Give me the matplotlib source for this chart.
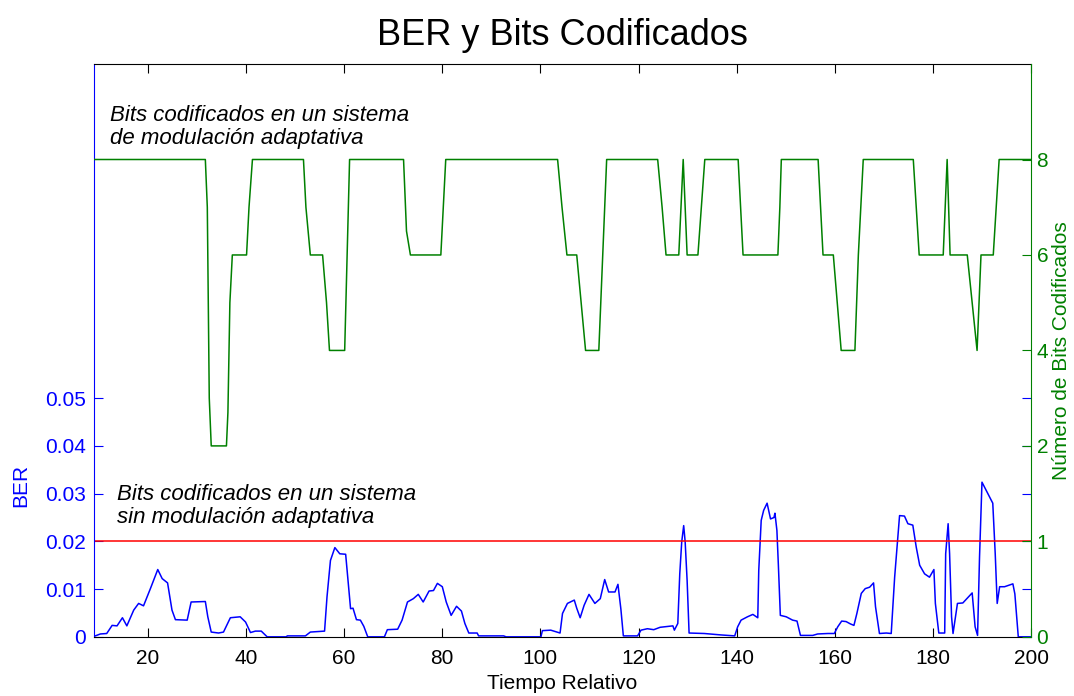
import numpy as np
import matplotlib
matplotlib.use("Agg")
import matplotlib.pyplot as plt
from matplotlib.ticker import FuncFormatter

plt.rcParams["font.family"] = ["Liberation Sans", "DejaVu Sans"]

# BER without adaptive modulation (time, BER)
ber_t = [9, 10.3, 11.6, 12.7, 13.7, 14.8, 15.7, 17.1, 18.1, 19.1, 20.5, 22.0, 22.9, 24.0, 24.9,
         25.6, 28.0, 28.8, 31.7, 32.2, 32.9, 34.4, 35.4, 36.8, 38.8, 39.9, 40.9, 41.9, 43.1, 44.3,
         48.2, 48.4, 52.1, 53.1, 56.0, 56.5, 57.2, 58.1, 59.1, 60.3, 60.9, 61.3, 61.8, 62.5, 63.3,
         64.0, 64.8,
         68.2, 68.8, 70.9, 71.8, 72.9, 74.1, 75.1, 76.1, 77.3, 78.2, 79.0, 80.0, 80.8, 81.8, 82.9,
         83.9, 84.6, 85.4, 87.1, 87.4, 92.5, 93.0,
         100.1, 100.4, 102.1, 104.0, 104.5, 105.5, 106.9, 107.4, 108.1, 108.9, 109.9, 111.1, 112.2,
         113.1, 113.9, 115.2, 115.8, 116.4, 116.9, 119.8, 120.5, 121.8, 123.1, 124.4,
         127.0, 127.3, 128.0, 128.4, 128.8, 129.2, 129.5, 129.9, 130.3, 133.4, 136.8, 139.6, 140.2,
         140.9, 142.2, 143.3, 144.3, 144.5, 145.0, 145.5, 146.2, 146.9, 147.6, 147.8, 148.2, 148.5,
         148.9, 150.1, 151.4, 152.3, 153.0,
         155.5, 156.5, 158.6, 159.9, 160.6, 161.4, 162.3, 163.2, 163.9, 164.5, 165.4, 166.2, 167.1,
         167.9, 168.3, 169.1, 170.5, 171.5,
         172.2, 173.2, 174.2, 174.9, 175.9, 176.6, 177.3, 178.3, 179.3, 180.2, 180.5, 181.2, 182.4,
         182.6, 183.1, 183.4, 183.8, 184.1, 185.0, 186.1, 188.0, 188.6, 189.1, 189.5, 190.0, 190.7,
         191.4, 192.2, 192.7, 193.1, 193.6, 194.6, 196.3, 196.7, 197.4, 200.0]
ber_val = [0.0001, 0.0006, 0.0007, 0.0024, 0.0023, 0.0040, 0.0023, 0.0056, 0.0070, 0.0065, 0.0101,
           0.0141, 0.0122, 0.0113, 0.0056, 0.0036, 0.0035, 0.0073, 0.0074, 0.0042, 0.0010, 0.0008,
           0.0010, 0.0040, 0.0042, 0.0031, 0.0009, 0.0012, 0.0012, 0.0,
           0.0, 0.0002, 0.0002, 0.0010, 0.0012, 0.0084, 0.0160, 0.0187, 0.0174, 0.0173, 0.0105,
           0.0059, 0.0060, 0.0036, 0.0035, 0.0022, 0.0,
           0.0, 0.0015, 0.0016, 0.0035, 0.0073, 0.0080, 0.0089, 0.0073, 0.0096, 0.0097, 0.0112,
           0.0105, 0.0073, 0.0045, 0.0064, 0.0054, 0.0028, 0.0008, 0.0008, 0.0002, 0.0002, 0.0,
           0.0, 0.0013, 0.0014, 0.0008, 0.0049, 0.0070, 0.0077, 0.0060, 0.0040, 0.0066, 0.0089,
           0.0070, 0.0080, 0.0120, 0.0094, 0.0094, 0.0110, 0.0058, 0.0002, 0.0002, 0.0014, 0.0017,
           0.0015, 0.0020,
           0.0023, 0.0014, 0.0028, 0.0132, 0.0199, 0.0233, 0.0199, 0.0118, 0.0008, 0.0007, 0.0004,
           0.0002, 0.0021, 0.0035, 0.0042, 0.0047, 0.0040, 0.0139, 0.0244, 0.0265, 0.0280, 0.0247,
           0.0250, 0.0259, 0.0223, 0.0150, 0.0045, 0.0042, 0.0035, 0.0033, 0.0003,
           0.0003, 0.0006, 0.0007, 0.0007, 0.0021, 0.0033, 0.0032, 0.0027, 0.0024, 0.0049, 0.0091,
           0.0101, 0.0104, 0.0113, 0.0063, 0.0007, 0.0008, 0.0007,
           0.0125, 0.0254, 0.0253, 0.0237, 0.0234, 0.0188, 0.0150, 0.0132, 0.0125, 0.0141, 0.0070,
           0.0008, 0.0008, 0.0174, 0.0237, 0.0174, 0.0042, 0.0007, 0.0070, 0.0071, 0.0092, 0.0021,
           0.0003, 0.0167, 0.0324, 0.0310, 0.0296, 0.0280, 0.0174, 0.0070, 0.0105, 0.0105, 0.0111,
           0.0090, 0.0, 0.0]

# bits per symbol with adaptive modulation (time, bits)
bits_t = [9, 31.7, 32.1, 32.5, 32.9, 36.0, 36.3, 36.7, 37.2, 40.1, 40.6, 41.3, 51.7, 52.2, 53.1,
          55.6, 56.4, 57.0, 60.1, 60.6, 61.1, 72.1, 72.7, 73.5, 79.7, 80.2, 80.7, 103.5, 104.4,
          105.4, 107.4, 108.3, 109.2, 111.9, 112.7, 113.5, 123.9, 124.8, 125.6, 128.2, 129.1, 129.9,
          132.1, 132.8, 133.5, 140.3, 141.3, 148.4, 148.8, 149.1, 156.6, 157.6, 159.7, 160.5, 161.3,
          164.1, 164.8, 165.8, 176.0, 177.2, 182.1, 182.9, 183.5, 187.0, 188.0, 189.0, 189.8, 190.7,
          192.3, 193.5, 200]
bits_val = [8, 8, 7, 3, 2, 2, 2.7, 5, 6, 6, 7, 8, 8, 7, 6,
            6, 5, 4, 4, 6, 8, 8, 6.5, 6, 6, 7, 8, 8, 7,
            6, 6, 5, 4, 4, 6, 8, 8, 7, 6, 6, 8, 6,
            6, 7, 8, 8, 6, 6, 7, 8, 8, 6, 6, 5, 4,
            4, 6, 8, 8, 6, 6, 8, 6, 6, 5, 4, 6, 6,
            6, 8, 8]

ber_limit = 0.02
ber_ticks = [0, 0.01, 0.02, 0.03, 0.04, 0.05]
bit_ticks = [0, 1, 2, 4, 6, 8]
time_ticks = [20, 40, 60, 80, 100, 120, 140, 160, 180, 200]

BLUE = "#0000ff"
GREEN = "#008000"
RED = "#ff0000"


# right axis: 0-2 linear, then 2 bits per step above 2
def bits_fwd(v):
    return np.interp(v, [0, 2, 10], [0, 2, 6])


def bits_inv(p):
    return np.interp(p, [0, 2, 6], [0, 2, 10])


fig = plt.figure(figsize=(10.74, 6.96), dpi=100)
ax = fig.add_axes([0.0875, 0.085, 0.8725, 0.823])
ax2 = ax.twinx()

ax.plot(ber_t, ber_val, color=BLUE, lw=1.1)
ax.axhline(ber_limit, color=RED, lw=1.1)
ax2.plot(bits_t, bits_val, color=GREEN, lw=1.1)

ax.set_xlim(9, 200)
ax.set_ylim(0, 0.12)
ax.set_xticks(time_ticks)
ax.set_yticks(ber_ticks)
ax.yaxis.set_major_formatter(FuncFormatter(lambda v, _: f"{v:g}"))

ax2.set_yscale("function", functions=(bits_fwd, bits_inv))
ax2.set_ylim(0, 10)
ax2.set_yticks(bit_ticks)
ax2.yaxis.set_major_formatter(FuncFormatter(lambda v, _: f"{v:g}"))
ax2.minorticks_off()

ax.tick_params(axis="x", direction="in", top=True, length=6.5, width=0.8,
               labelsize=15, pad=9)
ax.tick_params(axis="y", direction="in", right=True, length=6.5, width=0.8,
               colors=BLUE, labelsize=15, pad=6)
ax2.tick_params(axis="y", direction="in", length=6.5, width=0.8,
                colors=GREEN, labelsize=15, pad=4)

for s in ax.spines.values():
    s.set_linewidth(0.8)
    s.set_color("black")
ax.spines["left"].set_color(BLUE)
ax.spines["right"].set_visible(False)
for side in ["top", "bottom", "left"]:
    ax2.spines[side].set_visible(False)
ax2.spines["right"].set_color(GREEN)
ax2.spines["right"].set_linewidth(0.8)

ax.set_title("BER y Bits Codificados", fontsize=26, pad=14)
ax.set_xlabel("Tiempo Relativo", fontsize=15, labelpad=4)
ax.set_ylabel("BER", fontsize=15, color=BLUE)
ax.yaxis.set_label_coords(-0.068, 0.265)
ax2.set_ylabel("Número de Bits Codificados", fontsize=15, color=GREEN)
ax2.yaxis.set_label_coords(1.022, 0.5)

ax.text(12.3, 0.1115, "Bits codificados en un sistema\nde modulación adaptativa",
        fontsize=16, style="italic", va="top", ha="left", linespacing=1.15)
ax.text(13.75, 0.0321, "Bits codificados en un sistema\nsin modulación adaptativa",
        fontsize=16, style="italic", va="top", ha="left", linespacing=1.15)

fig.savefig("out.png", dpi=100)
